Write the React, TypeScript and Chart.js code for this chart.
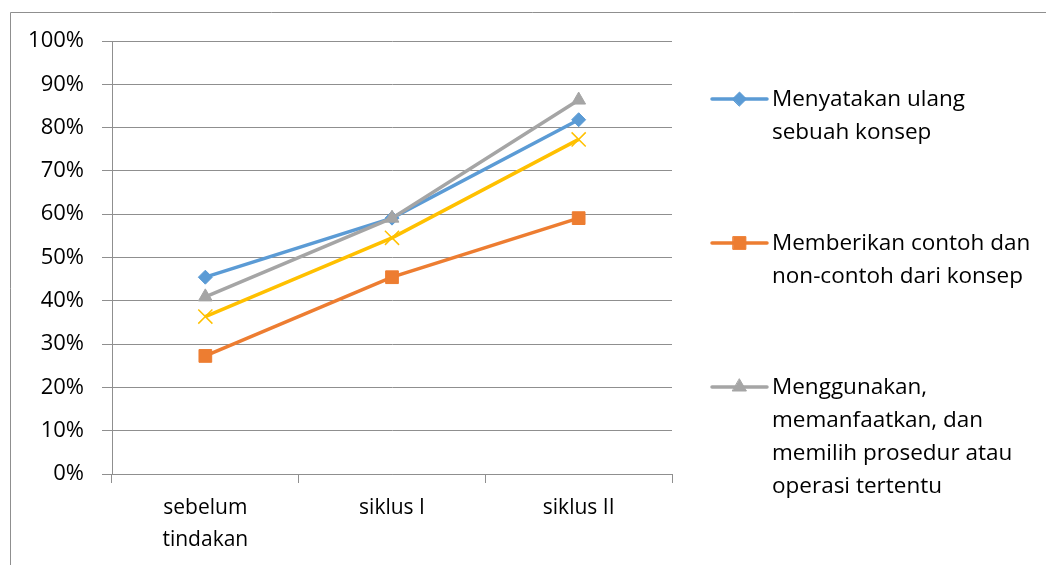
import React, { useEffect, useRef } from "react";
import { Chart, registerables } from "chart.js";
import { drawPoint } from "chart.js/helpers";

Chart.register(...registerables);

const categories: (string | string[])[] = [["sebelum", "tindakan"], "siklus I", "siklus II"];
const menyatakan = [45.45, 59.09, 81.82];
const memberikan = [27.27, 45.45, 59.09];
const menggunakan = [40.91, 59.09, 86.36];
const keempat = [36.36, 54.55, 77.27];
const yTicks = [0, 10, 20, 30, 40, 50, 60, 70, 80, 90, 100];

const legendLines: string[][] = [
  ["Menyatakan ulang", "sebuah konsep"],
  ["Memberikan contoh dan", "non-contoh dari konsep"],
  ["Menggunakan,", "memanfaatkan, dan", "memilih prosedur atau", "operasi tertentu"],
];

const FONT = "'Open Sans', sans-serif";
const AXIS = "#8f8f8f";

const frameAndLegend = {
  id: "frameAndLegend",
  afterDraw(chart: any) {
    const ctx = chart.ctx as CanvasRenderingContext2D;
    ctx.save();
    ctx.strokeStyle = AXIS;
    ctx.lineWidth = 1;
    ctx.beginPath();
    ctx.moveTo(2.5, chart.height);
    ctx.lineTo(2.5, 4.5);
    ctx.lineTo(chart.width, 4.5);
    ctx.stroke();

    const lineH = 33;
    let y = 91;
    const x0 = 704;
    const x1 = 759;
    const tx = 764;
    ctx.font = `22.5px ${FONT}`;
    ctx.textBaseline = "middle";
    ctx.textAlign = "left";
    legendLines.forEach((lines, i) => {
      const ds = chart.data.datasets[i];
      ctx.strokeStyle = ds.borderColor;
      ctx.lineWidth = 3.5;
      ctx.lineCap = "round";
      ctx.beginPath();
      ctx.moveTo(x0, y);
      ctx.lineTo(x1, y);
      ctx.stroke();
      ctx.fillStyle = ds.pointBackgroundColor;
      ctx.strokeStyle = ds.pointBorderColor;
      ctx.lineWidth = 1;
      drawPoint(ctx, { pointStyle: ds.pointStyle, radius: ds.pointRadius, borderWidth: 1, rotation: 0 } as any, (x0 + x1) / 2, y);
      ctx.fillStyle = "#000";
      lines.forEach((t, k) => {
        ctx.fillText(t, tx, y + 1 + k * lineH);
      });
      y += (lines.length - 1) * lineH + 111;
    });
    ctx.restore();
  },
};

export default function App() {
  const ref = useRef<HTMLCanvasElement | null>(null);
  useEffect(() => {
    document.documentElement.style.overflow = "hidden";
    if (!ref.current) return;
    const mk = (label: string, data: number[], color: string, style: string, radius: number, order: number, fill = true) => ({
      label,
      data,
      borderColor: color,
      backgroundColor: color,
      pointBackgroundColor: fill ? color : "transparent",
      pointBorderColor: color,
      pointBorderWidth: fill ? 1 : 1.5,
      pointStyle: style,
      pointRadius: radius,
      borderWidth: 3.5,
      tension: 0,
      order,
    });
    const chart = new Chart(ref.current, {
      type: "line",
      data: {
        labels: categories,
        datasets: [
          mk("Menyatakan ulang sebuah konsep", menyatakan, "#5B9BD5", "rectRot", 7, 3),
          mk("Memberikan contoh dan non-contoh dari konsep", memberikan, "#ED7D31", "rect", 9, 2),
          mk("Menggunakan, memanfaatkan, dan memilih prosedur atau operasi tertentu", menggunakan, "#A5A5A5", "triangle", 8, 1),
          mk("Seri 4", keempat, "#FFC000", "crossRot", 10, 0, false),
        ],
      },
      options: {
        animation: false,
        responsive: true,
        maintainAspectRatio: false,
        layout: { padding: { left: 0, right: 382, top: 33, bottom: 8 } },
        plugins: { legend: { display: false }, tooltip: { enabled: false } },
        scales: {
          x: {
            offset: true,
            afterFit: (s: any) => {
              s.height = 83;
            },
            grid: {
              offset: true,
              drawOnChartArea: false,
              drawTicks: true,
              tickLength: 9,
              color: AXIS,
            },
            border: { color: AXIS, width: 1 },
            ticks: {
              color: "#000",
              padding: 9,
              font: { family: FONT, size: 21, lineHeight: 1.52 },
              maxRotation: 0,
              autoSkip: false,
            },
          },
          y: {
            min: 0,
            max: 100,
            afterFit: (s: any) => {
              s.width = 104;
            },
            afterBuildTicks: (s: any) => {
              s.ticks = yTicks.map((v) => ({ value: v }));
            },
            grid: { color: AXIS, tickLength: 10, drawTicks: true },
            border: { color: AXIS, width: 1 },
            ticks: {
              color: "#000",
              padding: 18,
              font: { family: FONT, size: 22 },
              callback: (v: any) => `${v}%`,
            },
          },
        },
      },
      plugins: [frameAndLegend],
    });
    return () => chart.destroy();
  }, []);
  return (
    <div style={{ width: 1046, height: 557, position: "relative" }}>
      <canvas ref={ref} />
    </div>
  );
}
